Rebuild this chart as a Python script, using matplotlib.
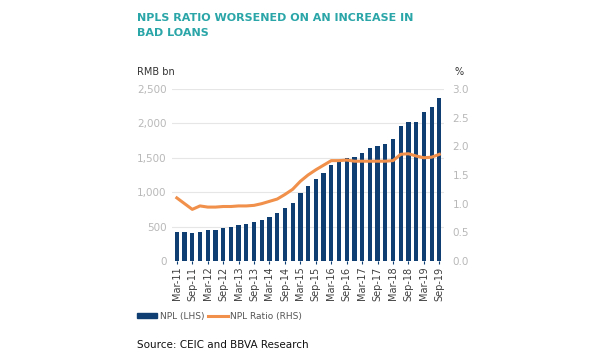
import matplotlib
matplotlib.use("Agg")
import matplotlib.pyplot as plt
from matplotlib.patches import Patch
from matplotlib.lines import Line2D

quarters = ["Mar-11","Jun-11","Sep-11","Dec-11","Mar-12","Jun-12","Sep-12","Dec-12",
            "Mar-13","Jun-13","Sep-13","Dec-13","Mar-14","Jun-14","Sep-14","Dec-14",
            "Mar-15","Jun-15","Sep-15","Dec-15","Mar-16","Jun-16","Sep-16","Dec-16",
            "Mar-17","Jun-17","Sep-17","Dec-17","Mar-18","Jun-18","Sep-18","Dec-18",
            "Mar-19","Jun-19","Sep-19"]
npl = [427, 417, 407, 428, 455, 456, 478, 493, 526, 540, 563, 592, 646, 699, 767, 843,
       982, 1092, 1186, 1274, 1392, 1437, 1494, 1512, 1571, 1636, 1670, 1706, 1774, 1955,
       2025, 2025, 2159, 2237, 2361]
npl_ratio = [1.10, 1.00, 0.90, 0.96, 0.94, 0.94, 0.95, 0.95, 0.96, 0.96, 0.97, 1.00,
             1.04, 1.08, 1.16, 1.25, 1.39, 1.50, 1.59, 1.67, 1.75, 1.75, 1.76, 1.74,
             1.74, 1.74, 1.74, 1.74, 1.75, 1.86, 1.87, 1.83, 1.80, 1.81, 1.86]
left_ticks = [0, 500, 1000, 1500, 2000, 2500]
right_ticks = [0.0, 0.5, 1.0, 1.5, 2.0, 2.5, 3.0]

navy = "#0F3E73"
orange = "#F0904A"
tickgray = "#B8B8B8"

fig = plt.figure(figsize=(6, 3.6), dpi=100)
ax = fig.add_axes([0.287, 0.275, 0.453, 0.478])
x = list(range(len(quarters)))
ax.bar(x, npl, width=0.55, color=navy, zorder=2)
ax.set_ylim(0, 2500)
ax.set_xlim(-0.6, len(quarters) - 0.4)
ax.set_yticks(left_ticks)
ax.set_yticklabels([f"{v:,}" for v in left_ticks])
ax.grid(axis="y", color="#E6E6E6", linewidth=0.8, zorder=0)
ax.set_xticks(x[::2])
ax.set_xticklabels(quarters[::2], rotation=90, fontsize=7, color="#404040")
ax.tick_params(axis="x", length=2, color=navy, pad=2)
ax.tick_params(axis="y", length=0, labelsize=7.5, labelcolor=tickgray, pad=4)
for s in ax.spines.values():
    s.set_visible(False)

ax2 = ax.twinx()
ax2.plot(x, npl_ratio, color=orange, linewidth=2.2, zorder=3)
ax2.set_ylim(0, 3.0)
ax2.set_yticks(right_ticks)
ax2.set_yticklabels([f"{v:.1f}" for v in right_ticks])
ax2.tick_params(axis="y", length=0, labelsize=7.5, labelcolor=tickgray, pad=6)
for s in ax2.spines.values():
    s.set_visible(False)

fig.text(0.228, 0.965, "NPLS RATIO WORSENED ON AN INCREASE IN\nBAD LOANS", color="#2AA5A8",
         fontsize=8, fontweight="bold", va="top", ha="left", linespacing=1.7)
fig.text(0.228, 0.785, "RMB bn", fontsize=7, color="#333333", ha="left", va="bottom")
fig.text(0.757, 0.785, "%", fontsize=7, color="#333333", ha="left", va="bottom")

handles = [Patch(color=navy), Line2D([0], [0], color=orange, linewidth=2.2)]
leg = fig.legend(handles, ["NPL (LHS)", "NPL Ratio (RHS)"], loc="center left",
                 bbox_to_anchor=(0.215, 0.122), ncol=2, frameon=False, fontsize=6.5,
                 handlelength=2.2, handleheight=0.5, columnspacing=0.4, handletextpad=0.3)
for t in leg.get_texts():
    t.set_color("#555555")

fig.text(0.228, 0.042, "Source: CEIC and BBVA Research", fontsize=7.5, color="#111111",
         ha="left", va="center")

fig.savefig("out.png", dpi=100)
